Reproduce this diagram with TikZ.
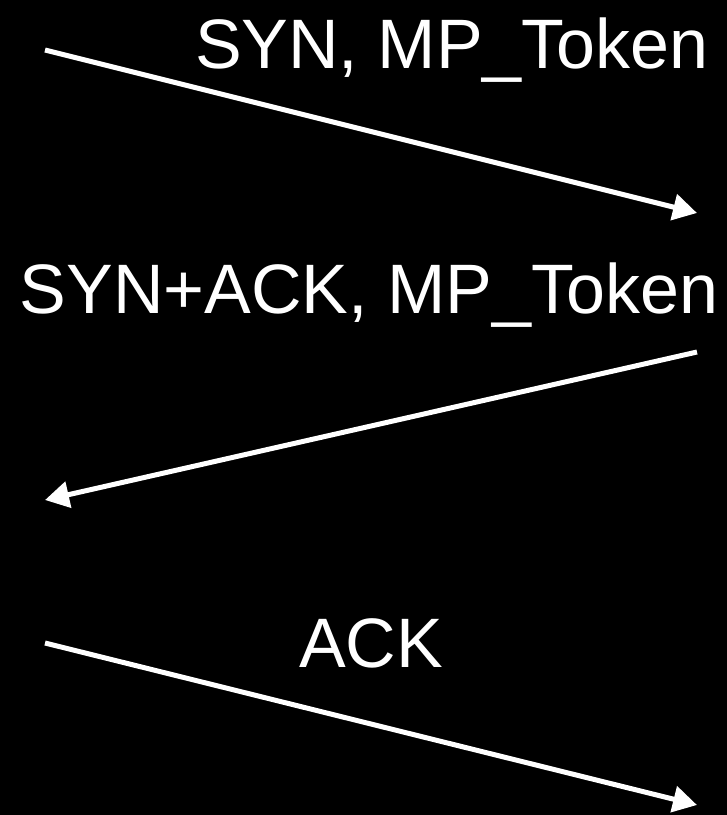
\documentclass[tikz,border=0pt]{standalone}
\usepackage{fontspec}
\setmainfont{Liberation Sans}
\usetikzlibrary{arrows.meta}
\begin{document}
\begin{tikzpicture}[x=0.5pt,y=-0.5pt,
	msg/.style={line width=2.5pt,white,-{Triangle[length=12pt,width=13pt]}},
	lbl/.style={text=white,inner sep=0pt,font=\fontsize{35}{42}\selectfont}]
			\fill [black] (0,0) rectangle (727,815);
			
			\coordinate (A1) at (45,50);
			\coordinate (B1) at (697,213);
			\coordinate (B2) at (697,352);
			\coordinate (A2) at (45,500);
			\coordinate (A3) at (45,643);
			\coordinate (B3) at (697,805);
			
			\node [lbl,anchor=base east] (L1) at (709,68) {SYN, MP\_Token};
			\node [lbl,anchor=base] (L2) at (369,313) {SYN+ACK, MP\_Token};
			\node [lbl,anchor=base] (L3) at (371,667) {ACK};
			
			\draw [msg] (A1) -- (B1);
			\draw [msg] (B2) -- (A2);
			\draw [msg] (A3) -- (B3);
		\end{tikzpicture}
\end{document}
